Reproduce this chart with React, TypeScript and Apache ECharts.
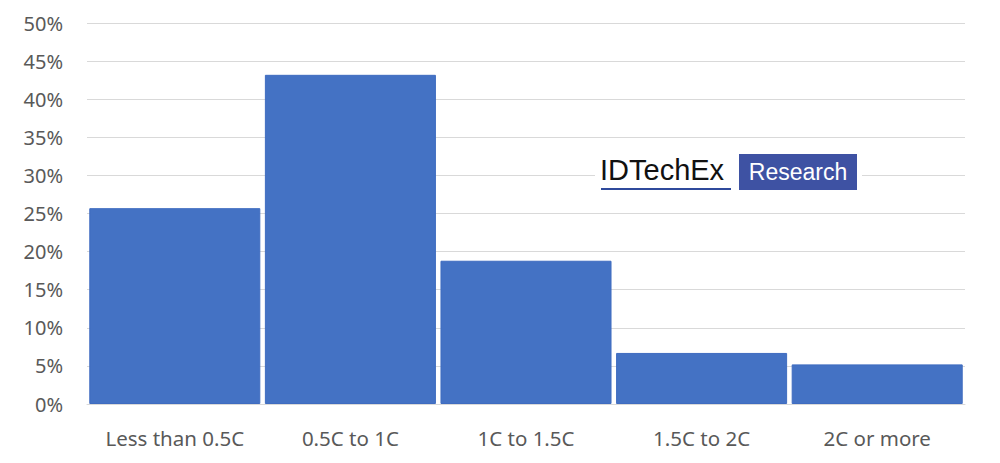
import React, { useEffect, useRef } from "react";
import * as echarts from "echarts";

const categories = ["Less than 0.5C", "0.5C to 1C", "1C to 1.5C", "1.5C to 2C", "2C or more"];
const values = [25.7, 43.2, 18.8, 6.7, 5.2];
const yTicks = { min: 0, max: 50, interval: 5 };

export default function App() {
  const ref = useRef<HTMLDivElement>(null);
  useEffect(() => {
    if (!ref.current) return;
    const chart = echarts.init(ref.current, undefined, { renderer: "svg" });
    const font = "'Noto Sans', 'Open Sans', sans-serif";
    chart.setOption({
      animation: false,
      backgroundColor: "#ffffff",
      grid: { left: 87, right: 35, top: 23, bottom: 59, containLabel: false },
      xAxis: {
        type: "category",
        data: categories,
        axisLine: { show: true, lineStyle: { color: "#d9d9d9", width: 1 } },
        axisTick: { show: false },
        axisLabel: { color: "#595959", fontSize: 20.5, fontFamily: font, margin: 23, interval: 0 },
      },
      yAxis: {
        type: "value",
        min: yTicks.min,
        max: yTicks.max,
        interval: yTicks.interval,
        axisLine: { show: false },
        axisTick: { show: false },
        splitLine: { lineStyle: { color: "#d9d9d9", width: 1 } },
        axisLabel: { color: "#595959", fontSize: 20, fontFamily: font, margin: 24, formatter: "{value}%" },
      },
      series: [
        {
          type: "bar",
          data: values,
          barCategoryGap: "2.6%",
          itemStyle: { color: "#4472C4", borderColor: "#3f6cc0", borderWidth: 1 },
        },
      ],
      graphic: [
        { type: "rect", shape: { x: 595, y: 150, width: 267, height: 44 }, style: { fill: "#ffffff" }, z: 10 },
        {
          type: "text",
          x: 600,
          y: 155,
          style: { text: "IDTechEx", fill: "#111111", fontSize: 29, fontWeight: 500, fontFamily: "'Liberation Sans', Arial, sans-serif", textVerticalAlign: "top" },
          z: 11,
        },
        { type: "rect", shape: { x: 601, y: 188, width: 130, height: 2 }, style: { fill: "#2f4a9c" }, z: 11 },
        { type: "rect", shape: { x: 739, y: 154, width: 118, height: 36 }, style: { fill: "#3e52a3" }, z: 11 },
        {
          type: "text",
          x: 798,
          y: 172,
          style: { text: "Research", fill: "#ffffff", fontSize: 23, fontFamily: "'Liberation Sans', Arial, sans-serif", align: "center", verticalAlign: "middle" },
          z: 12,
        },
      ],
    });
    return () => chart.dispose();
  }, []);
  return <div ref={ref} style={{ position: "fixed", left: 0, top: 0, width: 1000, height: 463 }} />;
}
